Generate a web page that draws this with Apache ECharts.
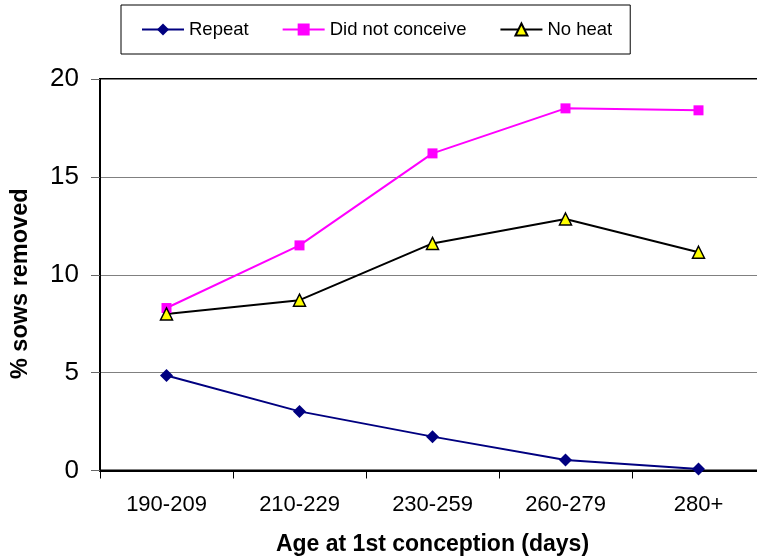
<!DOCTYPE html>
<html>
<head>
<meta charset="utf-8">
<script src="https://cdn.jsdelivr.net/npm/echarts@6/dist/echarts.min.js"></script>
<style>html,body{margin:0;padding:0;background:#fff}#c{width:757px;height:560px}</style>
</head>
<body>
<div id="c"></div>
<script>
const categories = ["190-209", "210-229", "230-259", "260-279", "280+"];
const repeat = [4.85, 3.02, 1.73, 0.54, 0.08];
const didNotConceive = [8.3, 11.5, 16.2, 18.5, 18.4];
const noHeat = [8.0, 8.7, 11.6, 12.85, 11.15];
const yTicks = [0, 5, 10, 15, 20];

const chart = echarts.init(document.getElementById('c'), null, {renderer: 'canvas'});
const F = '"Liberation Sans", Arial, sans-serif';
chart.setOption({
  animation: false,
  backgroundColor: '#fff',
  textStyle: {fontFamily: F},
  legend: {
    left: 121, top: 5,
    padding: [14, 18, 14, 20],
    itemGap: 33,
    itemWidth: 42, itemHeight: 15,
    borderColor: '#000', borderWidth: 1,
    textStyle: {fontFamily: F, fontSize: 18.5, color: '#000', lineHeight: 21},
    data: ['Repeat', 'Did not conceive', 'No heat']
  },
  grid: {left: 100, top: 79, right: -8, bottom: 89.5, outerBoundsMode: 'none', containLabel: false,
         show: true, borderColor: '#000', borderWidth: 2, backgroundColor: 'transparent'},
  xAxis: {
    type: 'category', data: categories, boundaryGap: true,
    name: 'Age at 1st conception (days)', nameLocation: 'middle', nameGap: 63,
    nameTextStyle: {fontWeight: 'bold', fontSize: 23, color: '#000', fontFamily: F},
    axisLine: {lineStyle: {color: '#000', width: 2}},
    axisTick: {show: true, length: 8, lineStyle: {color: '#000', width: 1}},
    axisLabel: {fontSize: 22, color: '#000', margin: 23, fontFamily: F}
  },
  yAxis: {
    type: 'value', min: yTicks[0], max: yTicks[yTicks.length - 1], interval: 5,
    name: '% sows removed', nameLocation: 'middle', nameGap: 67,
    nameTextStyle: {fontWeight: 'bold', fontSize: 23.5, color: '#000', fontFamily: F, padding: [0, 18, 0, 0]},
    axisLine: {show: true, lineStyle: {color: '#000', width: 2}},
    axisTick: {show: true, length: 9, lineStyle: {color: '#666', width: 1}},
    axisLabel: {fontSize: 26, color: '#000', margin: 21, fontFamily: F},
    splitLine: {show: true, lineStyle: {color: '#808080', width: 1}}
  },
  series: [
    {name: 'Repeat', type: 'line', data: repeat, symbol: 'diamond', symbolSize: 13,
     lineStyle: {color: '#000080', width: 2}, itemStyle: {color: '#000080'}},
    {name: 'Did not conceive', type: 'line', data: didNotConceive, symbol: 'rect', symbolSize: 10,
     lineStyle: {color: '#FF00FF', width: 2}, itemStyle: {color: '#FF00FF'}},
    {name: 'No heat', type: 'line', data: noHeat, symbol: 'triangle', symbolSize: 12,
     lineStyle: {color: '#000', width: 2}, itemStyle: {color: '#FFFF00', borderColor: '#000', borderWidth: 1.5}}
  ]
});
</script>
</body>
</html>
